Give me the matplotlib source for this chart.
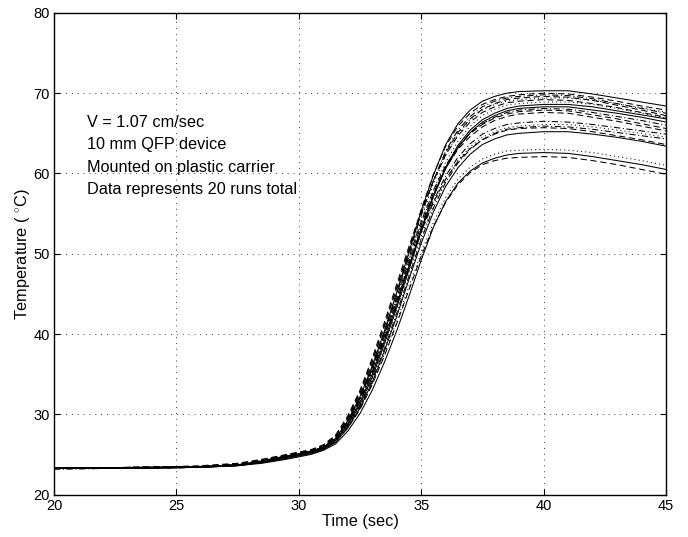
import numpy as np
import matplotlib
matplotlib.use('Agg')
import matplotlib.pyplot as plt

plt.rcParams['font.family'] = ['Liberation Sans', 'DejaVu Sans']
plt.rcParams['mathtext.fontset'] = 'custom'
plt.rcParams['mathtext.rm'] = 'Liberation Sans'

# sample times (sec)
t = [20, 24, 26, 27.5, 28.5, 29.5, 30.5, 31, 31.5, 32, 32.5, 33, 33.5, 34, 34.5,
     35, 35.5, 36, 36.5, 37, 37.5, 38, 38.5, 39, 40, 41, 42, 43, 44, 45]

# temperature of the 20 runs (deg C)
run01 = [23.3, 23.4, 23.5, 23.7, 24.2, 24.8, 25.4, 25.9, 27.0, 29.2, 32.2, 36.0, 40.4, 45.2, 50.2, 55.3, 59.8, 63.6, 66.2, 67.9, 69.0, 69.6, 70.0, 70.2, 70.3, 70.3, 69.9, 69.4, 68.9, 68.4]
run02 = [23.3, 23.4, 23.5, 23.8, 24.3, 24.9, 25.5, 26.0, 27.2, 29.5, 32.6, 36.5, 41.0, 45.8, 50.6, 55.5, 59.9, 63.4, 65.9, 67.5, 68.6, 69.2, 69.6, 69.8, 70.0, 69.9, 69.5, 69.0, 68.4, 67.9]
run03 = [23.2, 23.3, 23.4, 23.7, 24.2, 24.8, 25.4, 25.9, 27.0, 29.1, 32.0, 35.8, 40.2, 45.0, 49.9, 54.8, 59.1, 62.8, 65.4, 67.1, 68.3, 69.0, 69.4, 69.6, 69.8, 69.7, 69.3, 68.7, 68.1, 67.5]
run04 = [23.3, 23.4, 23.5, 23.8, 24.3, 24.9, 25.5, 26.1, 27.3, 29.6, 32.8, 36.7, 41.1, 45.7, 50.4, 55.0, 59.1, 62.6, 65.1, 66.8, 68.0, 68.7, 69.2, 69.4, 69.6, 69.5, 69.1, 68.5, 67.9, 67.2]
run05 = [23.3, 23.4, 23.5, 23.7, 24.1, 24.7, 25.3, 25.8, 26.9, 29.0, 31.9, 35.6, 39.9, 44.6, 49.5, 54.4, 58.7, 62.3, 64.9, 66.7, 67.9, 68.6, 69.0, 69.2, 69.4, 69.4, 69.1, 68.7, 68.2, 67.6]
run06 = [23.3, 23.4, 23.5, 23.7, 24.1, 24.7, 25.3, 25.8, 26.8, 28.8, 31.5, 35.0, 39.2, 43.7, 48.4, 53.1, 57.3, 60.8, 63.5, 65.4, 66.7, 67.5, 68.1, 68.4, 68.6, 68.6, 68.3, 67.8, 67.3, 66.8]
run07 = [23.3, 23.3, 23.4, 23.6, 24.0, 24.6, 25.2, 25.7, 26.7, 28.6, 31.2, 34.6, 38.8, 43.3, 48.0, 52.8, 57.1, 60.6, 63.2, 65.1, 66.4, 67.2, 67.8, 68.1, 68.3, 68.3, 67.9, 67.5, 67.0, 66.4]
run08 = [23.2, 23.3, 23.4, 23.7, 24.1, 24.7, 25.3, 25.8, 26.8, 28.9, 31.7, 35.3, 39.5, 44.0, 48.6, 53.2, 57.3, 60.7, 63.2, 65.0, 66.2, 67.0, 67.6, 67.9, 68.1, 68.0, 67.6, 67.1, 66.6, 66.0]
run09 = [23.3, 23.4, 23.5, 23.8, 24.3, 24.9, 25.5, 26.0, 27.1, 29.3, 32.3, 36.1, 40.4, 45.0, 49.6, 54.0, 57.9, 61.0, 63.3, 65.0, 66.1, 66.9, 67.4, 67.7, 67.9, 67.8, 67.3, 66.8, 66.2, 65.6]
run10 = [23.3, 23.4, 23.5, 23.7, 24.2, 24.8, 25.4, 25.9, 27.0, 29.1, 32.0, 35.7, 40.0, 44.5, 49.1, 53.6, 57.5, 60.7, 63.0, 64.6, 65.8, 66.6, 67.1, 67.4, 67.6, 67.5, 67.0, 66.5, 65.9, 65.3]
run11 = [23.3, 23.4, 23.5, 23.7, 24.2, 24.8, 25.4, 25.9, 27.0, 29.0, 31.8, 35.4, 39.6, 44.2, 48.9, 53.7, 57.9, 61.4, 64.0, 65.9, 67.2, 68.0, 68.5, 68.7, 68.9, 68.9, 68.6, 68.1, 67.5, 66.9]
run12 = [23.3, 23.4, 23.5, 23.7, 24.1, 24.7, 25.3, 25.8, 26.8, 28.7, 31.3, 34.7, 38.7, 43.1, 47.7, 52.2, 56.1, 59.2, 61.6, 63.3, 64.5, 65.2, 65.7, 65.9, 66.1, 66.1, 65.8, 65.4, 65.0, 64.5]
run13 = [23.2, 23.3, 23.4, 23.6, 24.0, 24.6, 25.2, 25.7, 26.6, 28.5, 31.0, 34.3, 38.2, 42.6, 47.2, 51.8, 55.7, 58.9, 61.3, 63.0, 64.2, 65.0, 65.5, 65.7, 65.9, 65.8, 65.5, 65.1, 64.7, 64.3]
run14 = [23.3, 23.4, 23.5, 23.8, 24.3, 24.9, 25.5, 26.0, 27.1, 29.2, 32.0, 35.6, 39.7, 44.1, 48.6, 52.8, 56.4, 59.3, 61.5, 63.1, 64.2, 64.9, 65.4, 65.6, 65.7, 65.6, 65.2, 64.7, 64.2, 63.6]
run15 = [23.3, 23.3, 23.4, 23.6, 24.0, 24.5, 25.1, 25.6, 26.5, 28.3, 30.8, 34.0, 37.9, 42.2, 46.8, 51.3, 55.2, 58.4, 60.7, 62.4, 63.6, 64.3, 64.8, 65.0, 65.2, 65.2, 64.9, 64.5, 64.0, 63.4]
run16 = [23.3, 23.4, 23.5, 23.7, 24.1, 24.6, 25.2, 25.7, 26.6, 28.3, 30.7, 33.8, 37.5, 41.6, 45.9, 50.1, 53.9, 57.0, 59.3, 60.8, 61.8, 62.4, 62.8, 62.9, 63.0, 62.9, 62.6, 62.1, 61.6, 61.0]
run17 = [23.3, 23.3, 23.4, 23.6, 23.9, 24.4, 25.0, 25.5, 26.3, 27.9, 30.1, 33.0, 36.5, 40.4, 44.7, 49.2, 53.3, 56.5, 58.8, 60.3, 61.3, 61.9, 62.3, 62.5, 62.6, 62.5, 62.1, 61.6, 61.1, 60.5]
run18 = [23.3, 23.4, 23.5, 23.7, 24.1, 24.6, 25.2, 25.7, 26.6, 28.3, 30.6, 33.7, 37.3, 41.3, 45.5, 49.7, 53.4, 56.4, 58.6, 60.1, 61.1, 61.6, 61.9, 62.0, 62.1, 62.0, 61.6, 61.1, 60.5, 59.9]
run19 = [23.3, 23.4, 23.6, 23.9, 24.4, 25.0, 25.6, 26.2, 27.4, 29.8, 33.0, 37.0, 41.5, 46.2, 50.9, 55.3, 59.1, 62.3, 64.7, 66.4, 67.6, 68.3, 68.8, 69.0, 69.2, 69.1, 68.7, 68.2, 67.6, 67.0]
run20 = [23.3, 23.4, 23.5, 23.7, 24.2, 24.8, 25.4, 25.9, 26.9, 28.9, 31.6, 35.1, 39.2, 43.6, 48.2, 52.7, 56.6, 59.7, 62.0, 63.7, 64.9, 65.6, 66.1, 66.3, 66.5, 66.4, 66.1, 65.7, 65.3, 64.9]

runs = [run01, run02, run03, run04, run05, run06, run07, run08, run09, run10,
        run11, run12, run13, run14, run15, run16, run17, run18, run19, run20]
styles = ['-', '--', '-.', '--', ':', '-', '-', '-.', '--', '--',
          ':', ':', '-.', '--', '-', ':', '-', '--', '--', '-.']
dash_map = {'-': '-', '--': (0, (6, 3.5)), '-.': (0, (6, 2.5, 1, 2.5)), ':': (0, (1, 3))}

notes = ['V = 1.07 cm/sec', '10 mm QFP device', 'Mounted on plastic carrier',
         'Data represents 20 runs total']

fig = plt.figure(figsize=(6.88, 5.37), dpi=100)
ax = fig.add_axes([0.0785, 0.079, 0.8895, 0.897])

for r, ls in zip(runs, styles):
    ax.plot(t, r, color='black', linestyle=dash_map[ls], linewidth=0.75)

ax.set_xlim(20, 45)
ax.set_ylim(20, 80)
ax.set_xticks([20, 25, 30, 35, 40, 45])
ax.set_yticks([20, 30, 40, 50, 60, 70, 80])
ax.grid(True, linestyle=(0, (1, 6)), color='black', linewidth=0.6)
ax.tick_params(direction='in', top=True, right=True, length=4, labelsize=10.5, pad=3)
for s in ax.spines.values():
    s.set_linewidth(1.0)

ax.set_xlabel('Time (sec)', fontsize=11.7, labelpad=1)
ax.set_ylabel('Temperature ( $^{\\circ}$C)', fontsize=11.7, labelpad=1)

for i, s in enumerate(notes):
    ax.text(21.33, 66.3 - 2.75 * i, s, fontsize=11.7, va='center', ha='left')

fig.savefig('out.png', dpi=100)
